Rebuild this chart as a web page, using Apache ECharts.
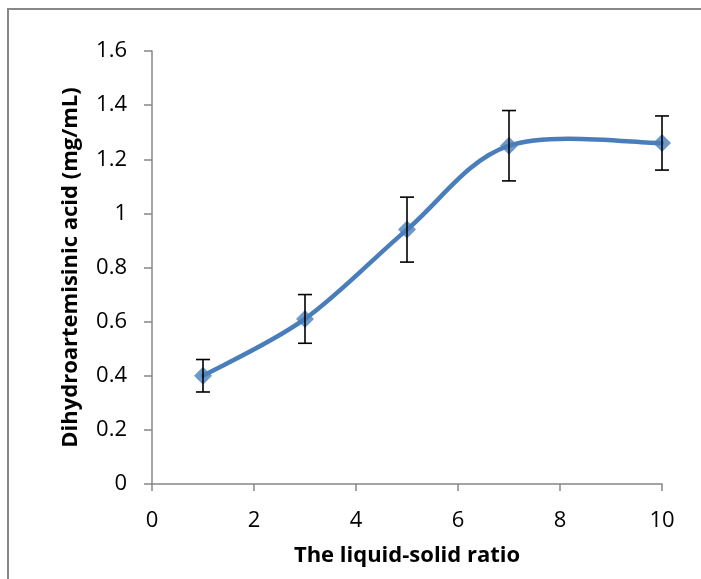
<!DOCTYPE html>
<html><head><meta charset="utf-8">
<script src="https://cdn.jsdelivr.net/npm/echarts@6/dist/echarts.min.js"></script>
<style>html,body{margin:0;padding:0;background:#fff}#c{width:701px;height:579px}</style>
</head><body><div id="c"></div>
<script>
const ratios = [1, 3, 5, 7, 10];
const concentration = [0.40, 0.61, 0.94, 1.25, 1.26];
const errLow = [0.34, 0.52, 0.82, 1.12, 1.16];
const errHigh = [0.46, 0.70, 1.06, 1.38, 1.36];
const xTitle = 'The liquid-solid ratio';
const yTitle = 'Dihydroartemisinic acid (mg/mL)';

const lineData = ratios.map((x, i) => [x, concentration[i]]);
const errData = ratios.map((x, i) => [x, errLow[i], errHigh[i]]);
const font = '"Open Sans", "Liberation Sans", sans-serif';
const blue = '#4a7ebb';
const chart = echarts.init(document.getElementById('c'));
chart.setOption({
  animation: false,
  backgroundColor: '#fff',
  graphic: [{type: 'rect', shape: {x: 8, y: 9, width: 900, height: 800}, style: {fill: 'none', stroke: '#888', lineWidth: 2}, z: -1}],
  grid: {left: 152, right: 39, top: 51, bottom: 95},
  xAxis: {
    type: 'value', min: 0, max: 10, interval: 2,
    name: xTitle, nameLocation: 'middle', nameGap: 61,
    nameTextStyle: {fontFamily: font, fontSize: 22, fontWeight: 'bold', color: '#000'},
    axisLine: {lineStyle: {color: '#868686', width: 1.5}},
    axisTick: {show: true, length: 7, lineStyle: {color: '#868686', width: 1.5}},
    axisLabel: {fontFamily: font, fontSize: 22, color: '#000', margin: 26},
    splitLine: {show: false}
  },
  yAxis: {
    type: 'value', min: 0, max: 1.6, interval: 0.2,
    name: yTitle, nameLocation: 'middle', nameGap: 70, nameRotate: 90,
    nameTextStyle: {fontFamily: font, fontSize: 22, fontWeight: 'bold', color: '#000'},
    axisLine: {show: true, lineStyle: {color: '#868686', width: 1.5}},
    axisTick: {show: true, length: 8, lineStyle: {color: '#868686', width: 1.5}},
    axisLabel: {fontFamily: font, fontSize: 22, color: '#000', margin: 25,
      formatter: v => String(Math.round(v * 10) / 10)},
    splitLine: {show: false}
  },
  series: [
    {
      type: 'custom', data: lineData, z: 2, silent: true,
      renderItem: function (params, api) {
        const i = params.dataIndex;
        const n = lineData.length;
        if (i >= n - 1) return {type: 'group', children: []};
        const P = k => api.coord(lineData[Math.max(0, Math.min(n - 1, k))]);
        const p0 = P(i - 1), p1 = P(i), p2 = P(i + 1), p3 = P(i + 2);
        const c1 = [p1[0] + (p2[0] - p0[0]) / 6, p1[1] + (p2[1] - p0[1]) / 6];
        const c2 = [p2[0] - (p3[0] - p1[0]) / 6, p2[1] - (p3[1] - p1[1]) / 6];
        return {
          type: 'bezierCurve',
          shape: {x1: p1[0], y1: p1[1], x2: p2[0], y2: p2[1], cpx1: c1[0], cpy1: c1[1], cpx2: c2[0], cpy2: c2[1]},
          style: {stroke: blue, lineWidth: 4.5, fill: null, lineCap: 'round'}
        };
      }
    },
    {
      type: 'scatter', data: lineData, z: 3,
      symbol: 'diamond', symbolSize: 18,
      itemStyle: {color: blue}
    },
    {
      type: 'custom', data: errData, z: 4,
      renderItem: function (params, api) {
        const x = api.value(0);
        const lo = api.coord([x, api.value(1)]);
        const hi = api.coord([x, api.value(2)]);
        const w = 7;
        const st = {stroke: '#000', lineWidth: 1.6};
        return {type: 'group', children: [
          {type: 'line', shape: {x1: lo[0], y1: lo[1], x2: hi[0], y2: hi[1]}, style: st},
          {type: 'line', shape: {x1: lo[0] - w, y1: lo[1], x2: lo[0] + w, y2: lo[1]}, style: st},
          {type: 'line', shape: {x1: hi[0] - w, y1: hi[1], x2: hi[0] + w, y2: hi[1]}, style: st}
        ]};
      }
    }
  ]
});
</script></body></html>
